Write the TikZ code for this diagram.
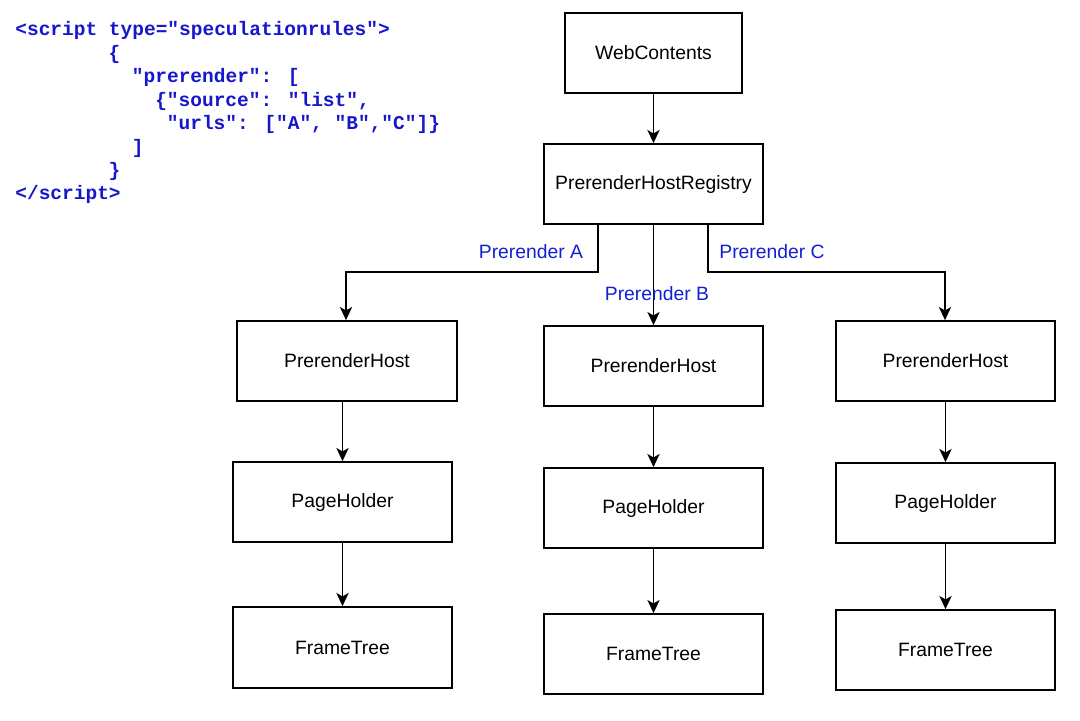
\documentclass[tikz,border=0pt]{standalone}
\usepackage{fontspec}
\setmainfont{Liberation Sans}
\newfontfamily\codefont{Liberation Mono}
\usetikzlibrary{arrows.meta}
\definecolor{codeblue}{RGB}{22,22,205}
\definecolor{lblblue}{RGB}{20,30,210}
\tikzset{
  box/.style={draw=black, line width=1pt, minimum width=219*0.02cm, minimum height=80*0.02cm, inner sep=0pt, font=\fontsize{11}{13}\selectfont},
  code/.style={anchor=base west, inner sep=0pt, text=codeblue, font=\codefont\bfseries\fontsize{11.1}{13}\selectfont},
  lbl/.style={text=lblblue, inner sep=0pt, font=\fontsize{11}{13}\selectfont},
  conn/.style={draw=black, line width=1pt, -{Stealth[length=7.5pt,width=7pt,inset=2pt]}}
}
\begin{document}
\begin{tikzpicture}[x=0.02cm,y=-0.02cm]
\useasboundingbox (0,0) rectangle (1080,721);
% code
\node[code] (c1) at (15,35) {<script type="speculationrules">};
\node[code] (c2) at (15+8*11.66,59) {\{};
\node[code] (c3) at (15+10*11.66,82) {"prerender": [};
\node[code] (c4) at (15+12*11.66,106) {\{"source": "list",};
\node[code] (c5) at (15+13*11.66,129) {"urls": ["A", "B","C"]\}};
\node[code] (c6) at (15+10*11.66,153) {]};
\node[code] (c7) at (15+8*11.66,176) {\}};
\node[code] (c8) at (15,199) {</script>};
% boxes
\node[box, minimum width=177*0.02cm] (wc) at (653.5,53) {WebContents};
\node[box] (reg) at (653.5,184) {PrerenderHostRegistry};
\node[box, minimum width=220*0.02cm] (phA) at (347,361) {PrerenderHost};
\node[box] (pgA) at (342.5,502) {PageHolder};
\node[box, minimum height=81*0.02cm] (ftA) at (342.5,647.5) {FrameTree};
\node[box] (phB) at (653.5,366) {PrerenderHost};
\node[box] (pgB) at (653.5,508) {PageHolder};
\node[box] (ftB) at (653.5,654) {FrameTree};
\node[box] (phC) at (945.5,361) {PrerenderHost};
\node[box] (pgC) at (945.5,503) {PageHolder};
\node[box] (ftC) at (945.5,650) {FrameTree};
% connectors
\draw[conn] (wc.south) -- (reg.north);
\coordinate (a1) at (598,272);
\coordinate (a2) at (346,272);
\coordinate (c1p) at (708,272);
\coordinate (c2p) at (945,272);
\draw[conn] (reg.south -| a1) -- (a1) -- (a2) -- (a2 |- phA.north);
\draw[conn] (reg.south) -- (phB.north);
\draw[conn] (reg.south -| c1p) -- (c1p) -- (c2p) -- (c2p |- phC.north);
\draw[conn] (phA.south -| 342.5,0) -- (pgA.north);
\draw[conn] (pgA.south) -- (ftA.north);
\draw[conn] (phB.south) -- (pgB.north);
\draw[conn] (pgB.south) -- (ftB.north);
\draw[conn] (phC.south) -- (pgC.north);
\draw[conn] (pgC.south) -- (ftC.north);
% labels
\node[lbl] (lA) at (531,252) {Prerender A};
\node[lbl] (lB) at (657,294) {Prerender B};
\node[lbl] (lC) at (772,252) {Prerender C};
\end{tikzpicture}
\end{document}
